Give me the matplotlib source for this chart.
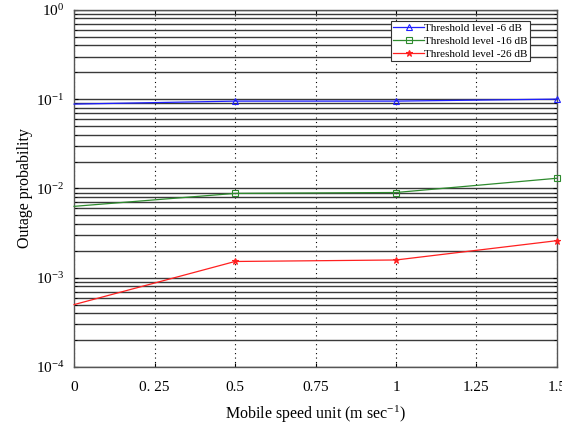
import matplotlib
matplotlib.use("Agg")
import matplotlib.pyplot as plt
from matplotlib.ticker import LogLocator, FixedLocator, FixedFormatter, NullFormatter

plt.rcParams['font.family'] = ['Liberation Serif', 'DejaVu Serif']
plt.rcParams['mathtext.fontset'] = 'custom'
plt.rcParams['mathtext.rm'] = 'Liberation Serif'
plt.rcParams['mathtext.it'] = 'Liberation Serif:italic'

speed = [0, 0.5, 1.0, 1.5]
thr_6 = [0.088, 0.095, 0.095, 0.100]
thr_16 = [0.0063, 0.0088, 0.0090, 0.013]
thr_26 = [0.0005, 0.00152, 0.00158, 0.0026]
labels = ['Threshold level -6 dB', 'Threshold level -16 dB', 'Threshold level -26 dB']
xticks = [0, 0.25, 0.5, 0.75, 1.0, 1.25, 1.5]
xticklabels = ['0', '0. 25', '0.5', '0.75', '1', '1.25', '1.5']

fig = plt.figure(figsize=(5.62, 4.28), dpi=100)
ax = fig.add_axes([0.1318, 0.1425, 0.8592, 0.8345])

ax.plot(speed, thr_6, color='#1f1fff', lw=0.9, marker='^', mfc='none', ms=5, mew=0.8,
        markevery=[1, 2, 3], label=labels[0], clip_on=False, zorder=5)
ax.plot(speed, thr_16, color='#2e8b2e', lw=0.9, marker='s', mfc='none', ms=4, mew=0.8,
        markevery=[1, 2, 3], label=labels[1], clip_on=False, zorder=5)
ax.plot(speed, thr_26, color='#ff2020', lw=0.9, marker='*', ms=5, mew=0.8,
        markevery=[1, 2, 3], label=labels[2], clip_on=False, zorder=5)

ax.set_yscale('log')
ax.set_ylim(1e-4, 1)
ax.set_xlim(0, 1.5)
ax.yaxis.set_major_locator(LogLocator(base=10, numticks=10))
ax.yaxis.set_minor_locator(LogLocator(base=10, subs=range(2, 10), numticks=20))
ax.yaxis.set_minor_formatter(NullFormatter())
ax.xaxis.set_major_locator(FixedLocator(xticks))
ax.xaxis.set_major_formatter(FixedFormatter(xticklabels))

ax.grid(True, which='both', axis='y', color='#3a3a3a', lw=1.0, ls='-')
ax.grid(True, which='major', axis='x', color='black', lw=0.8, ls=(0, (1, 3)))
ax.set_axisbelow(True)

ax.tick_params(which='both', direction='in', top=True, right=True, labelsize=11, length=3)
ax.tick_params(axis='y', pad=7)
ax.tick_params(axis='x', pad=10)
ax.tick_params(which='minor', length=2)
for s in ax.spines.values():
    s.set_color('#555555')
    s.set_linewidth(1.0)

ax.set_xlabel('Mobile speed unit (m sec$^{-1}$)', fontsize=11.5, labelpad=7)
ax.set_ylabel('Outage probability', fontsize=11.5, labelpad=2)

leg = ax.legend(loc='upper right', bbox_to_anchor=(0.944, 0.969), fontsize=8,
                frameon=True, fancybox=False, edgecolor='#333333', framealpha=1,
                borderpad=0.2, labelspacing=0.3, handlelength=2.8, handletextpad=0.0,
                borderaxespad=0)
leg.get_frame().set_linewidth(0.8)

fig.savefig('out.png', dpi=100)
